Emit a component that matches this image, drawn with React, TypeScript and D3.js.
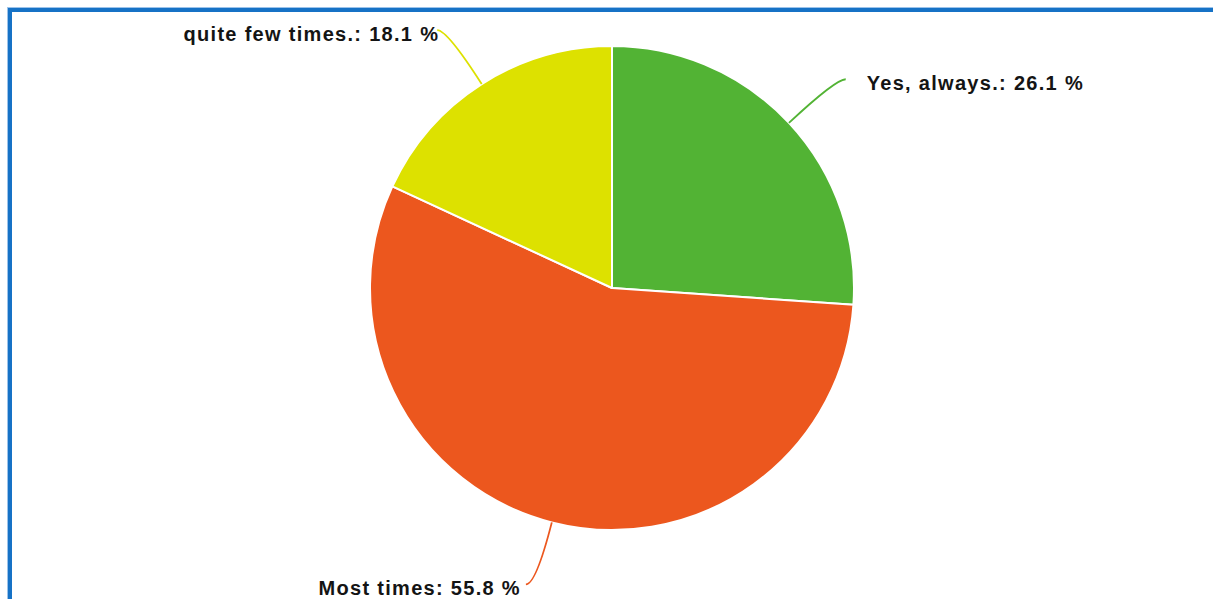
import React from "react";
import * as d3 from "d3";

const categories = ["Yes, always.", "Most times", "quite few times."];
const values = [26.1, 55.8, 18.1];
const colors = ["#52b334", "#ec571e", "#dde100"];
const labelTexts = ["Yes, always.: 26.1 %", "Most times: 55.8 %", "quite few times.: 18.1 %"];

const W = 1213;
const H = 599;
const CX = 612;
const CY = 288;
const R = 242;
const LINE_R = 306;
// per-label horizontal gap between connector end and text
const textGap = [21, -5, 2];

export default function App() {
  const pie = d3.pie<number>().sort(null).value((d) => d)(values);
  const arc = d3.arc<d3.PieArcDatum<number>>().innerRadius(0).outerRadius(R);

  return (
    <svg
      width={W}
      height={H}
      style={{ position: "absolute", left: 0, top: 0, background: "#fff" }}
      fontFamily="'Liberation Sans', Arial, sans-serif"
    >
      <rect x={10} y={10} width={W + 20} height={H + 20} fill="none" stroke="#1672c6" strokeWidth={4} />
      <rect x={7.5} y={7.5} width={W + 20} height={H + 20} fill="none" stroke="#9cc3ea" strokeWidth={1} />
      <g transform={`translate(${CX},${CY})`}>
        {pie.map((p, i) => (
          <path key={categories[i]} d={arc(p) || ""} fill={colors[i]} stroke="#fff" strokeWidth={2} strokeLinejoin="round" />
        ))}
      </g>
      {pie.map((p, i) => {
        const a = (p.startAngle + p.endAngle) / 2;
        const sx = Math.sin(a);
        const sy = -Math.cos(a);
        const x0 = CX + R * sx;
        const y0 = CY + R * sy;
        const cx = CX + LINE_R * sx;
        const cy = CY + LINE_R * sy;
        const right = sx >= 0;
        const ex = cx + (right ? 10 : -10);
        const ey = cy;
        const tx = ex + textGap[i];
        return (
          <g key={"l" + i}>
            <path d={`M${x0},${y0} Q${cx},${cy} ${ex},${ey}`} fill="none" stroke={colors[i]} strokeWidth={1.8} />
            <text
              x={tx}
              y={ey + 11}
              textAnchor={right ? "start" : "end"}
              fontSize={20}
              fontWeight="bold"
              letterSpacing={1.3}
              fill="#141414"
            >
              {labelTexts[i]}
            </text>
          </g>
        );
      })}
    </svg>
  );
}
